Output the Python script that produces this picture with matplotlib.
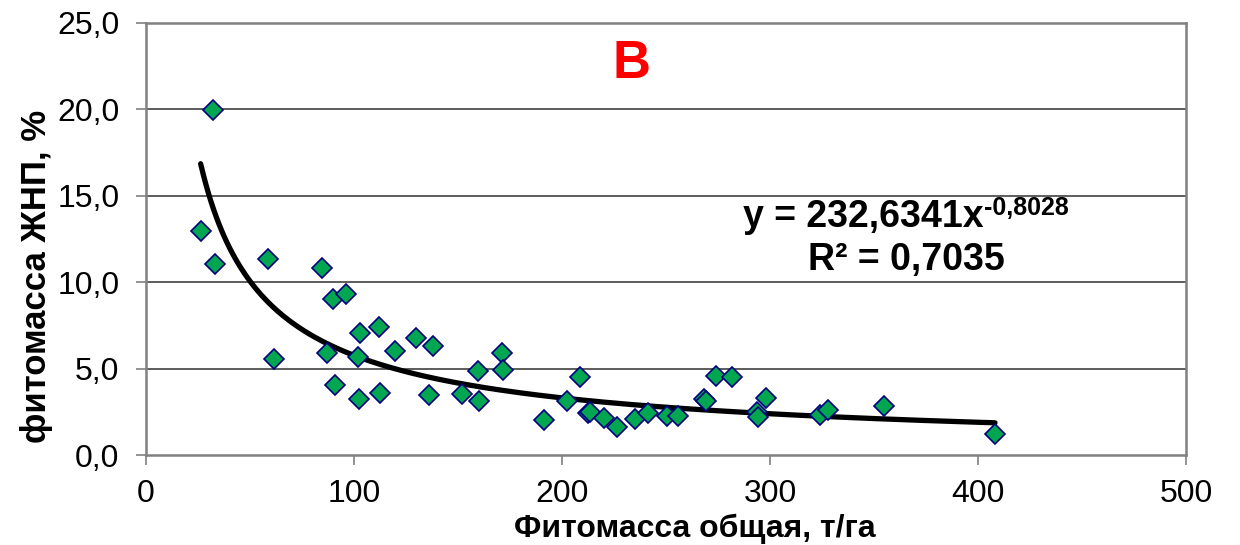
import numpy as np
import matplotlib
matplotlib.use("Agg")
import matplotlib.pyplot as plt

plt.rcParams['font.family'] = ['Liberation Sans', 'DejaVu Sans']

# данные: фитомасса общая (т/га) и доля ЖНП (%)
phyto_total = [26.3, 32.2, 33.0, 58.5, 61.5, 84.8, 87.2, 90.0, 96.2, 91.0,
               102.9, 101.8, 102.5, 111.9, 112.5, 119.7, 129.8, 138.1, 135.9, 151.9,
               159.6, 159.9, 171.3, 171.8, 191.3, 202.3, 208.7, 212.6, 213.5, 220.3,
               226.3, 235.1, 241.2, 250.6, 255.6, 268.3, 269.2, 274.0, 281.6, 293.9,
               294.4, 297.9, 324.0, 328.0, 354.8, 408.2]
phyto_jnp = [12.96, 19.97, 11.05, 11.34, 5.54, 10.82, 5.89, 9.05, 9.3, 4.05,
             7.04, 5.65, 3.26, 7.42, 3.57, 6.02, 6.75, 6.31, 3.47, 3.53,
             4.88, 3.14, 5.89, 4.92, 2.03, 3.13, 4.53, 2.41, 2.5, 2.16,
             1.6, 2.07, 2.41, 2.26, 2.26, 3.22, 3.1, 4.59, 4.5, 2.5,
             2.18, 3.32, 2.29, 2.6, 2.85, 1.2]

# степенная линия тренда (коэффициенты с графика)
trend_a = 232.6341
trend_b = -0.8028

x_ticks = [0, 100, 200, 300, 400, 500]
y_ticks = [0, 5, 10, 15, 20, 25]
y_ticklabels = ['0,0', '5,0', '10,0', '15,0', '20,0', '25,0']

fig = plt.figure(figsize=(12.4, 5.45), dpi=100)
ax = fig.add_axes([0.1177, 0.1651, 0.8387, 0.7927])

# сетка
for yv in y_ticks[1:-1]:
    ax.axhline(yv, color='#303030', lw=1.1, zorder=1)

xt = np.linspace(min(phyto_total), max(phyto_total), 300)
ax.plot(xt, trend_a * xt ** trend_b, color='black', lw=3.8,
        solid_capstyle='round', zorder=2)

ax.plot(phyto_total, phyto_jnp, ls='none', marker='D', ms=10.5,
        mfc='#00A650', mec='#000080', mew=1.2, zorder=3)

ax.set_xlim(0, 500)
ax.set_ylim(0, 25)
ax.set_xticks(x_ticks)
ax.set_xticklabels([str(v) for v in x_ticks])
ax.set_yticks(y_ticks)
ax.set_yticklabels(y_ticklabels)
ax.tick_params(direction='out', length=7, width=1.2, color='#808080',
               labelsize=23)
ax.tick_params(axis='x', pad=10)
ax.tick_params(axis='y', pad=12)

for s in ax.spines.values():
    s.set_color('#808080')
    s.set_linewidth(1.8)

ax.set_xlabel('Фитомасса общая, т/га', fontsize=23, fontweight='bold',
              va='center')
ax.xaxis.set_label_coords(0.528, -0.172)
ax.set_ylabel('фитомасса ЖНП, %', fontsize=25, fontweight='bold',
              va='center')
ax.yaxis.set_label_coords(-0.105, 0.413)

ax.text(0.467, 0.905, 'В', transform=ax.transAxes, color='red',
        fontsize=38, fontweight='bold', ha='center', va='center')

eq = ax.text(0.574, 0.528, 'y = 232,6341x', transform=ax.transAxes,
             fontsize=27, fontweight='bold', ha='left', va='baseline')
ax.annotate('-0,8028', xy=(1, 0), xycoords=eq, xytext=(0.5, 14.5),
            textcoords='offset points', fontsize=18, fontweight='bold',
            ha='left', va='baseline')
ax.text(0.6365, 0.428, 'R² = 0,7035', transform=ax.transAxes,
        fontsize=27, fontweight='bold', ha='left', va='baseline')

fig.savefig('out.png', dpi=100)
